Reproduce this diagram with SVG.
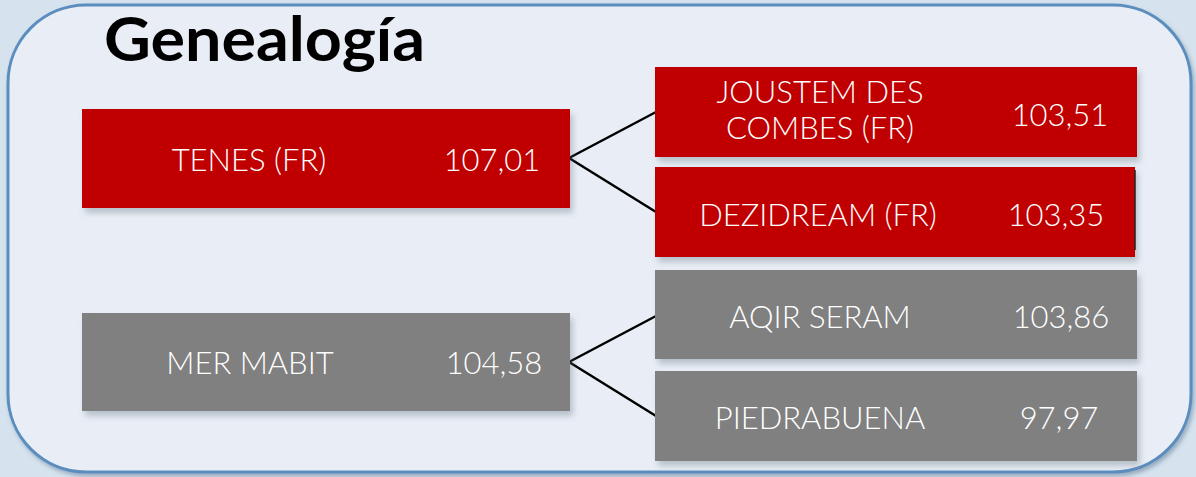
<svg xmlns="http://www.w3.org/2000/svg" width="1196" height="477" viewBox="0 0 1196 477">
<style>
.red{fill:#c00000}
.gray{fill:#808080}
.box{filter:url(#sh)}
.t{font-family:Lato,"Liberation Sans",sans-serif;font-weight:300;font-size:31px;fill:#ffffff}
.c{stroke:#000;stroke-width:2.5;fill:none}
</style>
<defs>
<filter id="sh" x="-10%" y="-20%" width="120%" height="150%">
<feDropShadow dx="3" dy="5" stdDeviation="3" flood-color="#5a6a7a" flood-opacity="0.35"/>
</filter>
<filter id="psh" x="-5%" y="-5%" width="110%" height="115%">
<feDropShadow dx="2" dy="3" stdDeviation="2" flood-color="#3a5a7a" flood-opacity="0.4"/>
</filter>
</defs>
<rect x="0" y="0" width="1196" height="477" fill="#d6e3ee"/>
<rect x="8" y="5" width="1183" height="467" rx="78" ry="78" fill="#e9eef6" stroke="#5b8dbf" stroke-width="3" filter="url(#psh)"/>
<text x="104" y="61" font-family="Lato,'Open Sans',sans-serif" font-weight="bold" font-size="61" textLength="321" lengthAdjust="spacingAndGlyphs" fill="#000">Genealogía</text>
<g id="connectors">
<line class="c" x1="569" y1="158" x2="656" y2="112"/>
<line class="c" x1="569" y1="158" x2="656" y2="212"/>
<line class="c" x1="569" y1="362" x2="656" y2="316"/>
<line class="c" x1="569" y1="362" x2="656" y2="416"/>
</g>
<g id="tenes">
<rect class="red box" x="82" y="109" width="488" height="99"/>
<text class="t" x="249" y="171" text-anchor="middle">TENES (FR)</text>
<text class="t" x="492" y="171" text-anchor="middle">107,01</text>
</g>
<g id="merMabit">
<rect class="gray box" x="82" y="313" width="488" height="98"/>
<text class="t" x="250" y="374" text-anchor="middle">MER MABIT</text>
<text class="t" x="494" y="374" text-anchor="middle">104,58</text>
</g>
<g id="joustem">
<rect class="red box" x="655" y="67" width="482" height="90"/>
<text class="t" x="820" y="103" text-anchor="middle">JOUSTEM DES</text>
<text class="t" x="820" y="139" text-anchor="middle">COMBES (FR)</text>
<text class="t" x="1060" y="126" text-anchor="middle">103,51</text>
</g>
<g id="dezidream">
<rect class="red box" x="655" y="167" width="480" height="90"/>
<line x1="1135" y1="170" x2="1135" y2="250" stroke="#222" stroke-width="1.5"/>
<text class="t" x="818" y="226" text-anchor="middle">DEZIDREAM (FR)</text>
<text class="t" x="1056" y="226" text-anchor="middle">103,35</text>
</g>
<g id="aqir">
<rect class="gray box" x="655" y="270" width="482" height="89"/>
<text class="t" x="820" y="328" text-anchor="middle">AQIR SERAM</text>
<text class="t" x="1061" y="328" text-anchor="middle">103,86</text>
</g>
<g id="piedrabuena">
<rect class="gray box" x="655" y="371" width="482" height="90"/>
<text class="t" x="820" y="429" text-anchor="middle">PIEDRABUENA</text>
<text class="t" x="1059" y="429" text-anchor="middle">97,97</text>
</g>
</svg>
